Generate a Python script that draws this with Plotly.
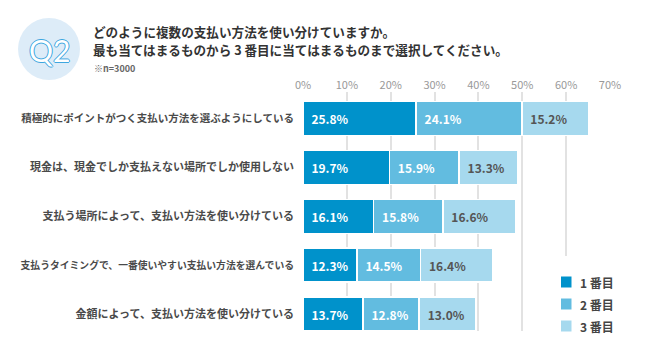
import plotly.graph_objects as go

categories = [
    "積極的にポイントがつく支払い方法を選ぶようにしている",
    "現金は、現金でしか支払えない場所でしか使用しない",
    "支払う場所によって、支払い方法を使い分けている",
    "支払うタイミングで、一番使いやすい支払い方法を選んでいる",
    "金額によって、支払い方法を使い分けている",
]
series_names = ["1 番目", "2 番目", "3 番目"]
first = [25.8, 19.7, 16.1, 12.3, 13.7]
second = [24.1, 15.9, 15.8, 14.5, 12.8]
third = [15.2, 13.3, 16.6, 16.4, 13.0]
tick_vals = [0, 10, 20, 30, 40, 50, 60, 70]
tick_text = ["0%", "10%", "20%", "30%", "40%", "50%", "60%", "70%"]

colors = ["#0092cb", "#62bce0", "#a6d9ee"]
text_colors = ["#ffffff", "#ffffff", "#555555"]
FONT = "Noto Sans CJK JP"

W, H = 650, 348
L, R, T, B = 303, 40, 92, 17
PW, PH = W - L - R, H - T - B


def px(x):
    return (x - L) / PW


def py(y):
    return (H - B - y) / PH


fig = go.Figure()
for name, vals, c, tc in zip(series_names, [first, second, third], colors, text_colors):
    fig.add_trace(go.Bar(
        y=categories, x=vals, name=name, orientation="h",
        marker=dict(color=c, line=dict(color="#ffffff", width=1.5)),
        text=[f"\u00a0\u00a0{v:.1f}%" for v in vals],
        textposition="inside", insidetextanchor="start",
        textfont=dict(family=FONT, size=12, color=tc, weight="bold"),
        hoverinfo="skip", showlegend=False,
    ))


# category tick labels: the longest ones are set slightly smaller so they fit
def fit_label(c):
    n = len(c)
    if n >= 28:
        return f"<span style='font-size:9.8px'>{c}</span>"
    if n >= 26:
        return f"<span style='font-size:10.5px'>{c}</span>"
    return c


cat_labels = [fit_label(c) for c in categories]

shapes = [
    # circle behind "Q2"
    dict(type="circle", xref="paper", yref="paper",
         x0=px(18), x1=px(80), y0=py(80), y1=py(18),
         fillcolor="#ddecf8", line=dict(width=0), layer="above"),
    # white patch behind legend (hides gridlines)
    dict(type="rect", xref="paper", yref="paper",
         x0=px(545), x1=px(650), y0=py(348), y1=py(256),
         fillcolor="#ffffff", line=dict(width=0), layer="above"),
]
annotations = [
    dict(text="Q2", x=px(49), y=py(50), xref="paper", yref="paper",
         showarrow=False, xanchor="center", yanchor="middle",
         font=dict(family="Lato", size=30, color="#ffffff",
                   shadow="1px 0 0 #3ea6df, -1px 0 0 #3ea6df, 0 1px 0 #3ea6df, 0 -1px 0 #3ea6df")),
    dict(text="どのように複数の支払い方法を使い分けていますか。",
         x=px(92), y=py(31), borderpad=0,
         xref="paper", yref="paper", showarrow=False, xanchor="left", yanchor="middle",
         font=dict(family=FONT, size=12.6, color="#333333", weight="bold")),
    dict(text="最も当てはまるものから 3 番目に当てはまるものまで選択してください。",
         x=px(92), y=py(49.5), borderpad=0,
         xref="paper", yref="paper", showarrow=False, xanchor="left", yanchor="middle",
         font=dict(family=FONT, size=12.6, color="#333333", weight="bold")),
    dict(text="※n=3000", x=px(92), y=py(69),
         xref="paper", yref="paper", showarrow=False, xanchor="left", yanchor="middle",
         font=dict(family=FONT, size=9, color="#666666", weight="bold")),
]
# manual legend
for i, (name, c) in enumerate(zip(series_names, colors)):
    cy = 282 + i * 22
    shapes.append(dict(type="rect", xref="paper", yref="paper",
                       x0=px(561), x1=px(571.5), y0=py(cy + 5.5), y1=py(cy - 5.5),
                       fillcolor=c, line=dict(width=0), layer="above"))
    annotations.append(dict(text=name, x=px(578), y=py(cy), xref="paper", yref="paper",
                            showarrow=False, xanchor="left", yanchor="middle",
                            font=dict(family=FONT, size=12, color="#444444", weight="bold")))

fig.update_layout(
    width=W, height=H,
    margin=dict(l=L, r=R, t=T, b=B, autoexpand=False),
    barmode="stack", bargap=0.306,
    plot_bgcolor="#ffffff", paper_bgcolor="#ffffff",
    shapes=shapes, annotations=annotations,
    xaxis=dict(side="top", range=[0, 70], tickvals=tick_vals, ticktext=tick_text,
               showgrid=True, gridcolor="#e2e2e2", gridwidth=1.5, zeroline=False,
               tickfont=dict(family=FONT, size=11, color="#999999"), ticks="",
               fixedrange=True, automargin=False),
    yaxis=dict(autorange=False, range=[4.347, -0.545], showgrid=False,
               tickmode="array", tickvals=categories, ticktext=cat_labels,
               tickfont=dict(family=FONT, size=11, color="#4a4a4a", weight="bold"),
               ticks="", ticklabelstandoff=8, fixedrange=True, automargin=False),
    uniformtext=dict(mode=False),
)
fig.write_html("out.html")
